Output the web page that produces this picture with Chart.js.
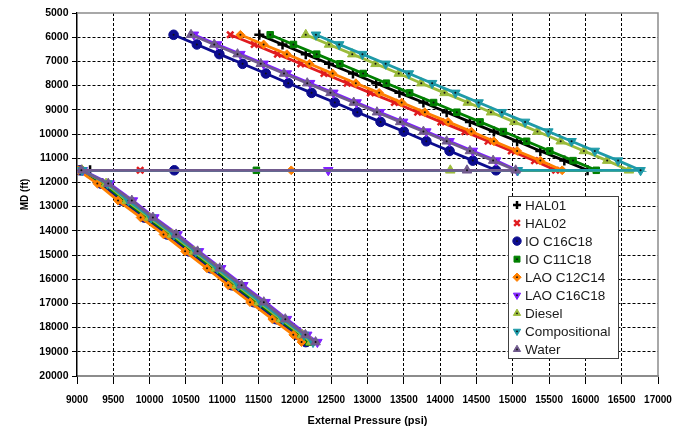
<!DOCTYPE html>
<html>
<head>
<meta charset="utf-8">
<script src="https://cdn.jsdelivr.net/npm/chart.js@4.4.1/dist/chart.umd.min.js"></script>
<style>
  html, body { margin: 0; padding: 0; background: #fff; }
  #wrap { width: 688px; height: 428px; }
</style>
</head>
<body>
<div id="wrap"><canvas id="myChart"></canvas></div>
<script>
const seriesNames = ['HAL01', 'HAL02', 'IO C16C18', 'IO C11C18', 'LAO C12C14', 'LAO C16C18', 'Diesel', 'Compositional', 'Water'];
const xTicks = [9000, 9500, 10000, 10500, 11000, 11500, 12000, 12500, 13000, 13500, 14000, 14500, 15000, 15500, 16000, 16500, 17000];
const yTicks = [5000, 6000, 7000, 8000, 9000, 10000, 11000, 12000, 13000, 14000, 15000, 16000, 17000, 18000, 19000, 20000];

// depths (ft) of the upper leg, the 11500 ft step and the lower leg
const topDepths = [5900, 6300, 6700, 7100, 7500, 7900, 8300, 8700, 9100, 9500, 9900, 10300, 10700, 11100];
const breakDepth = 11500;
const bottomDepths = [12050, 12750, 13450, 14150, 14850, 15550, 16250, 16950, 17650, 18300, 18600];

// pressures (psi): upper leg, the three points on the 11500 ft line, lower leg
const hal01Top = [11510, 11830, 12150, 12470, 12800, 13120, 13440, 13770, 14090, 14410, 14740, 15060, 15380, 15710];
const hal01Break = [16030, 9180, 9060];
const hal01Bottom = [9350, 9635, 9945, 10260, 10560, 10860, 11150, 11455, 11760, 12050, 12170];

const hal02Top = [11110, 11440, 11760, 12080, 12400, 12720, 13040, 13370, 13690, 14010, 14340, 14660, 14980, 15300];
const hal02Break = [15590, 9870, 9060];
const hal02Bottom = [9390, 9675, 9985, 10300, 10600, 10900, 11190, 11495, 11800, 12090, 12210];

const ioC16Top = [10330, 10650, 10960, 11280, 11600, 11910, 12230, 12550, 12860, 13180, 13500, 13810, 14130, 14450];
const ioC16Break = [14770, 10340, 9040];
const ioC16Bottom = [9330, 9615, 9925, 10240, 10540, 10840, 11130, 11435, 11740, 12030, 12150];

const ioC11Top = [11660, 11980, 12300, 12620, 12940, 13260, 13580, 13910, 14230, 14550, 14870, 15190, 15510, 15830];
const ioC11Break = [16150, 11470, 9050];
const ioC11Bottom = [9370, 9655, 9965, 10280, 10580, 10880, 11170, 11475, 11780, 12070, 12190];

const laoC12Top = [11250, 11570, 11890, 12200, 12520, 12840, 13160, 13470, 13790, 14110, 14430, 14740, 15060, 15380];
const laoC12Break = [15680, 11950, 9020];
const laoC12Bottom = [9280, 9565, 9876, 10191, 10488, 10790, 11082, 11383, 11689, 11978, 12092];

const laoC16Top = [10610, 10930, 11250, 11570, 11890, 12210, 12530, 12850, 13170, 13490, 13810, 14130, 14450, 14770];
const laoC16Break = [15060, 12460, 9080];
const laoC16Bottom = [9450, 9770, 10065, 10385, 10680, 10985, 11290, 11595, 11890, 12170, 12310];

const dieselTop = [12150, 12470, 12790, 13110, 13430, 13740, 14060, 14380, 14700, 15020, 15340, 15660, 15980, 16300];
const dieselBreak = [16600, 14140, 9070];
const dieselBottom = [9400, 9685, 9995, 10310, 10610, 10910, 11200, 11505, 11810, 12100, 12220];

const compTop = [12290, 12610, 12930, 13250, 13570, 13890, 14210, 14530, 14850, 15170, 15490, 15810, 16130, 16450];
const compBreak = [16760, 15070, 9070];
const compBottom = [9420, 9710, 10020, 10335, 10635, 10935, 11225, 11530, 11835, 12125, 12250];

const waterTop = [10570, 10890, 11210, 11530, 11850, 12170, 12490, 12810, 13130, 13450, 13770, 14090, 14410, 14730];
const waterBreak = [15040, 14370, 9060];
const waterBottom = [9430, 9755, 10045, 10365, 10660, 10965, 11266, 11572, 11868, 12145, 12285];

const seriesData = [
    [hal01Top, hal01Break, hal01Bottom],
    [hal02Top, hal02Break, hal02Bottom],
    [ioC16Top, ioC16Break, ioC16Bottom],
    [ioC11Top, ioC11Break, ioC11Bottom],
    [laoC12Top, laoC12Break, laoC12Bottom],
    [laoC16Top, laoC16Break, laoC16Bottom],
    [dieselTop, dieselBreak, dieselBottom],
    [compTop, compBreak, compBottom],
    [waterTop, waterBreak, waterBottom]
];

const colors  = ['#000000', '#e01b1f', '#0c0c8e', '#008000', '#ff8000', '#7f1fff', '#9bbb3b', '#1e9aa8', '#715b8e'];
const shapes  = ['cross', 'crossRot', 'circle', 'rect', 'rectRot', 'triangle', 'triangle', 'triangle', 'triangle'];
const turns   = [0, 0, 0, 0, 0, 180, 0, 180, 0];
const sizes   = [5, 4.5, 4.8, 4.6, 4.4, 5.5, 5.5, 5.5, 5.5];

const labelFont = '"Liberation Sans", Arial, sans-serif';
const narrowFont = '"Liberation Sans Narrow", "Arial Narrow", "Liberation Sans", Arial, sans-serif';

function legPoints(top, brk, bottom) {
    const pts = top.map((p, i) => ({ x: p, y: topDepths[i] }));
    brk.forEach(p => pts.push({ x: p, y: breakDepth }));
    bottom.forEach((p, i) => pts.push({ x: p, y: bottomDepths[i] }));
    return pts;
}

const datasets = seriesNames.map((name, i) => {
    const isCross = shapes[i] === 'cross' || shapes[i] === 'crossRot';
    return {
        label: name,
        data: legPoints(seriesData[i][0], seriesData[i][1], seriesData[i][2]),
        showLine: true,
        borderColor: colors[i],
        backgroundColor: colors[i],
        borderWidth: 2.8,
        pointStyle: shapes[i],
        pointRotation: turns[i],
        pointRadius: sizes[i],
        pointBorderWidth: isCross ? 2.5 : 1,
        pointBorderColor: colors[i],
        pointBackgroundColor: colors[i],
        order: seriesNames.length - 1 - i
    };
});

// small dark dot in the middle of the filled markers, as in the original plot
const dotPlugin = {
    id: 'markerDots',
    afterDatasetDraw(chart, args) {
        const ds = chart.data.datasets[args.index];
        if (ds.pointStyle === 'cross' || ds.pointStyle === 'crossRot') return;
        const ctx = chart.ctx;
        const a = chart.chartArea;
        ctx.save();
        ctx.beginPath();
        ctx.rect(a.left, a.top, a.right - a.left, a.bottom - a.top);
        ctx.clip();
        ctx.fillStyle = '#111';
        args.meta.data.forEach(pt => {
            ctx.beginPath();
            ctx.arc(pt.x, pt.y, 1, 0, Math.PI * 2);
            ctx.fill();
        });
        ctx.restore();
    }
};

// grey frame on top and right side of the plot
const framePlugin = {
    id: 'frame',
    beforeDatasetsDraw(chart) {
        const { ctx, chartArea: a } = chart;
        ctx.save();
        ctx.strokeStyle = '#8c8c8c';
        ctx.lineWidth = 1.5;
        ctx.beginPath();
        ctx.moveTo(a.left, a.top);
        ctx.lineTo(a.right, a.top);
        ctx.lineTo(a.right, a.bottom);
        ctx.stroke();
        ctx.restore();
    }
};

// legend box inside the plot, lower right
const legendPlugin = {
    id: 'boxLegend',
    afterDraw(chart) {
        const ctx = chart.ctx;
        const bx = 508, by = 196, bw = 110, bh = 162;
        ctx.save();
        ctx.fillStyle = '#fff';
        ctx.fillRect(bx, by, bw, bh);
        ctx.strokeStyle = '#404040';
        ctx.lineWidth = 1;
        ctx.strokeRect(bx + 0.5, by + 0.5, bw, bh);
        ctx.font = '13.5px ' + labelFont;
        ctx.textBaseline = 'middle';
        ctx.textAlign = 'left';
        chart.data.datasets.forEach((ds, i) => {
            const y = 205 + i * 18.05;
            ctx.fillStyle = ds.backgroundColor;
            ctx.strokeStyle = ds.borderColor;
            ctx.lineWidth = ds.pointBorderWidth;
            Chart.helpers.drawPoint(ctx, {
                pointStyle: ds.pointStyle,
                rotation: ds.pointRotation,
                radius: ds.pointStyle.indexOf('cross') === 0 ? 4 : 4.2,
                borderWidth: ds.pointBorderWidth
            }, 517, y);
            if (ds.pointStyle.indexOf('cross') !== 0) {
                ctx.fillStyle = '#111';
                ctx.beginPath();
                ctx.arc(517, y, 0.9, 0, Math.PI * 2);
                ctx.fill();
            }
            ctx.fillStyle = '#1a1a1a';
            ctx.fillText(ds.label, 525, y + 1);
        });
        ctx.restore();
    }
};

const clear = 'rgba(0,0,0,0)';

new Chart(document.getElementById('myChart'), {
    type: 'scatter',
    data: { datasets: datasets },
    plugins: [framePlugin, dotPlugin, legendPlugin],
    options: {
        responsive: true,
        maintainAspectRatio: false,
        animation: false,
        layout: { padding: { top: 13, right: 30, left: 0, bottom: 0 } },
        elements: { line: { tension: 0 } },
        plugins: {
            legend: { display: false },
            tooltip: { enabled: false }
        },
        scales: {
            x: {
                type: 'linear',
                min: 9000,
                max: 17000,
                afterBuildTicks: s => { s.ticks = xTicks.map(v => ({ value: v })); },
                afterFit: s => { s.height = 52; s.paddingLeft = 0; s.paddingRight = 0; },
                ticks: {
                    callback: v => String(v),
                    color: '#000',
                    font: { family: narrowFont, size: 10, weight: 'bold' },
                    padding: 10,
                    maxRotation: 0,
                    autoSkip: false
                },
                grid: {
                    color: c => (c.tick && (c.tick.value === 9000 || c.tick.value === 17000)) ? clear : '#000',
                    lineWidth: 1,
                    tickColor: '#000',
                    tickLength: 8,
                    tickWidth: 1,
                    tickBorderDash: []
                },
                border: { color: '#8c8c8c', width: 2, dash: [3, 2] },
                title: {
                    display: true,
                    text: 'External Pressure (psi)',
                    color: '#000',
                    font: { family: labelFont, size: 11, weight: 'bold' },
                    padding: { top: 0, bottom: 0 }
                }
            },
            y: {
                type: 'linear',
                reverse: true,
                min: 5000,
                max: 20000,
                afterBuildTicks: s => { s.ticks = yTicks.map(v => ({ value: v })); },
                afterFit: s => { s.width = 77; s.paddingTop = 0; s.paddingBottom = 0; },
                ticks: {
                    callback: v => String(v),
                    color: '#000',
                    font: { family: labelFont, size: 10.5, weight: 'bold' },
                    padding: 3.5
                },
                grid: {
                    color: c => (c.tick && (c.tick.value === 5000 || c.tick.value === 20000)) ? clear : '#000',
                    lineWidth: 1,
                    tickColor: '#000',
                    tickLength: 5,
                    tickWidth: 1,
                    tickBorderDash: []
                },
                border: { color: '#000', width: 1.5, dash: [3, 2] },
                title: {
                    display: true,
                    text: 'MD (ft)',
                    color: '#000',
                    font: { family: labelFont, size: 10, weight: 'bold' },
                    padding: { top: 19, bottom: 0 }
                }
            }
        }
    }
});
</script>
</body>
</html>
